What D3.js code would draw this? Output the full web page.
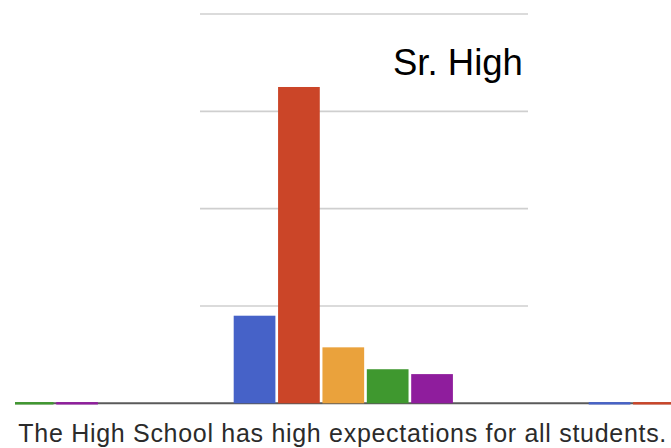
<!DOCTYPE html>
<html>

<head>
    <meta charset="utf-8">
    <title>Sr. High</title>
    <script src="https://d3js.org/d3.v7.min.js"></script>
    <style>
        body {
            background-color: #ffffff;
            margin: 0;
            padding: 0;
            overflow: hidden;
        }
        text {
            font-family: "Liberation Sans", Arial, sans-serif;
        }
    </style>
</head>

<body>
    <div id="chart"></div>
    <script>
        // questions (only the middle one is fully in view)
        var questions = ["prev", "expectations", "next"]
        var questionLabels = ["", "The High School has high expectations for all students.", ""]
        var answers = ["a1", "a2", "a3", "a4", "a5"]
        var colors = ["#4662c8", "#cb4528", "#eaa23c", "#3f982f", "#8f1d9d"]

        var values_a1 = [0, 9, 0]
        var values_a2 = [0, 32.5, 0]
        var values_a3 = [0, 5.75, 0]
        var values_a4 = [0, 3.5, 0]
        var values_a5 = [0, 3, 0]
        var seriesValues = [values_a1, values_a2, values_a3, values_a4, values_a5]

        var yTicks = [10, 20, 30, 40]
        var title = "Sr. High"

        var width = 671
        var height = 448

        var svg = d3.select("#chart")
            .append("svg")
            .attr("width", width)
            .attr("height", height)

        svg.append("rect")
            .attr("width", width)
            .attr("height", height)
            .attr("fill", "#ffffff")

        // plot area starts at x=15
        svg.append("defs").append("clipPath")
            .attr("id", "clip")
            .append("rect")
            .attr("x", 15)
            .attr("y", 0)
            .attr("width", width - 15)
            .attr("height", height)

        var x0 = d3.scaleBand()
            .domain(questions)
            .range([343.3 - 1.5 * 355, 343.3 + 1.5 * 355])
            .paddingInner(0.375)
            .paddingOuter(0.1875)

        var x1 = d3.scaleBand()
            .domain(answers)
            .range([0, x0.bandwidth()])
            .paddingInner(0.06)
            .paddingOuter(0.03)

        var y = d3.scaleLinear()
            .domain([0, 40])
            .range([403.3, 14])

        var color = d3.scaleOrdinal()
            .domain(answers)
            .range(colors)

        // gridlines
        svg.append("g")
            .selectAll("line")
            .data(yTicks)
            .enter()
            .append("line")
            .attr("x1", 200)
            .attr("x2", 528)
            .attr("y1", function (d) { return y(d) })
            .attr("y2", function (d) { return y(d) })
            .attr("stroke", "#cfcfcf")
            .attr("stroke-width", 1.6)

        // baseline
        svg.append("line")
            .attr("x1", 15)
            .attr("x2", width)
            .attr("y1", y(0))
            .attr("y2", y(0))
            .attr("stroke", "#5a5a5a")
            .attr("stroke-width", 2)

        var rows = []
        questions.forEach(function (q, qi) {
            answers.forEach(function (a, ai) {
                rows.push({ q: q, a: a, v: seriesValues[ai][qi] })
            })
        })

        svg.append("g")
            .attr("clip-path", "url(#clip)")
            .selectAll("rect")
            .data(rows)
            .enter()
            .append("rect")
            .attr("x", function (d) { return x0(d.q) + x1(d.a) })
            .attr("width", x1.bandwidth())
            .attr("y", function (d) { return d.v > 0 ? y(d.v) : y(0) - 1.2 })
            .attr("height", function (d) { return d.v > 0 ? y(0) - y(d.v) : 2.4 })
            .attr("fill", function (d) { return color(d.a) })

        // category label
        svg.append("g")
            .selectAll("text")
            .data(questions)
            .enter()
            .append("text")
            .filter(function (d, i) { return questionLabels[i] !== "" })
            .attr("x", function (d) { return x0(d) + x0.bandwidth() / 2 - 1 })
            .attr("y", 441.5)
            .attr("text-anchor", "middle")
            .attr("font-size", 25)
            .attr("textLength", 648)
            .attr("lengthAdjust", "spacing")
            .attr("fill", "#2b2b2b")
            .text(function (d) { return questionLabels[questions.indexOf(d)] })

        svg.append("text")
            .attr("x", 393)
            .attr("y", 75)
            .attr("font-size", 36.5)
            .attr("fill", "#000000")
            .text(title)
    </script>
</body>

</html>
